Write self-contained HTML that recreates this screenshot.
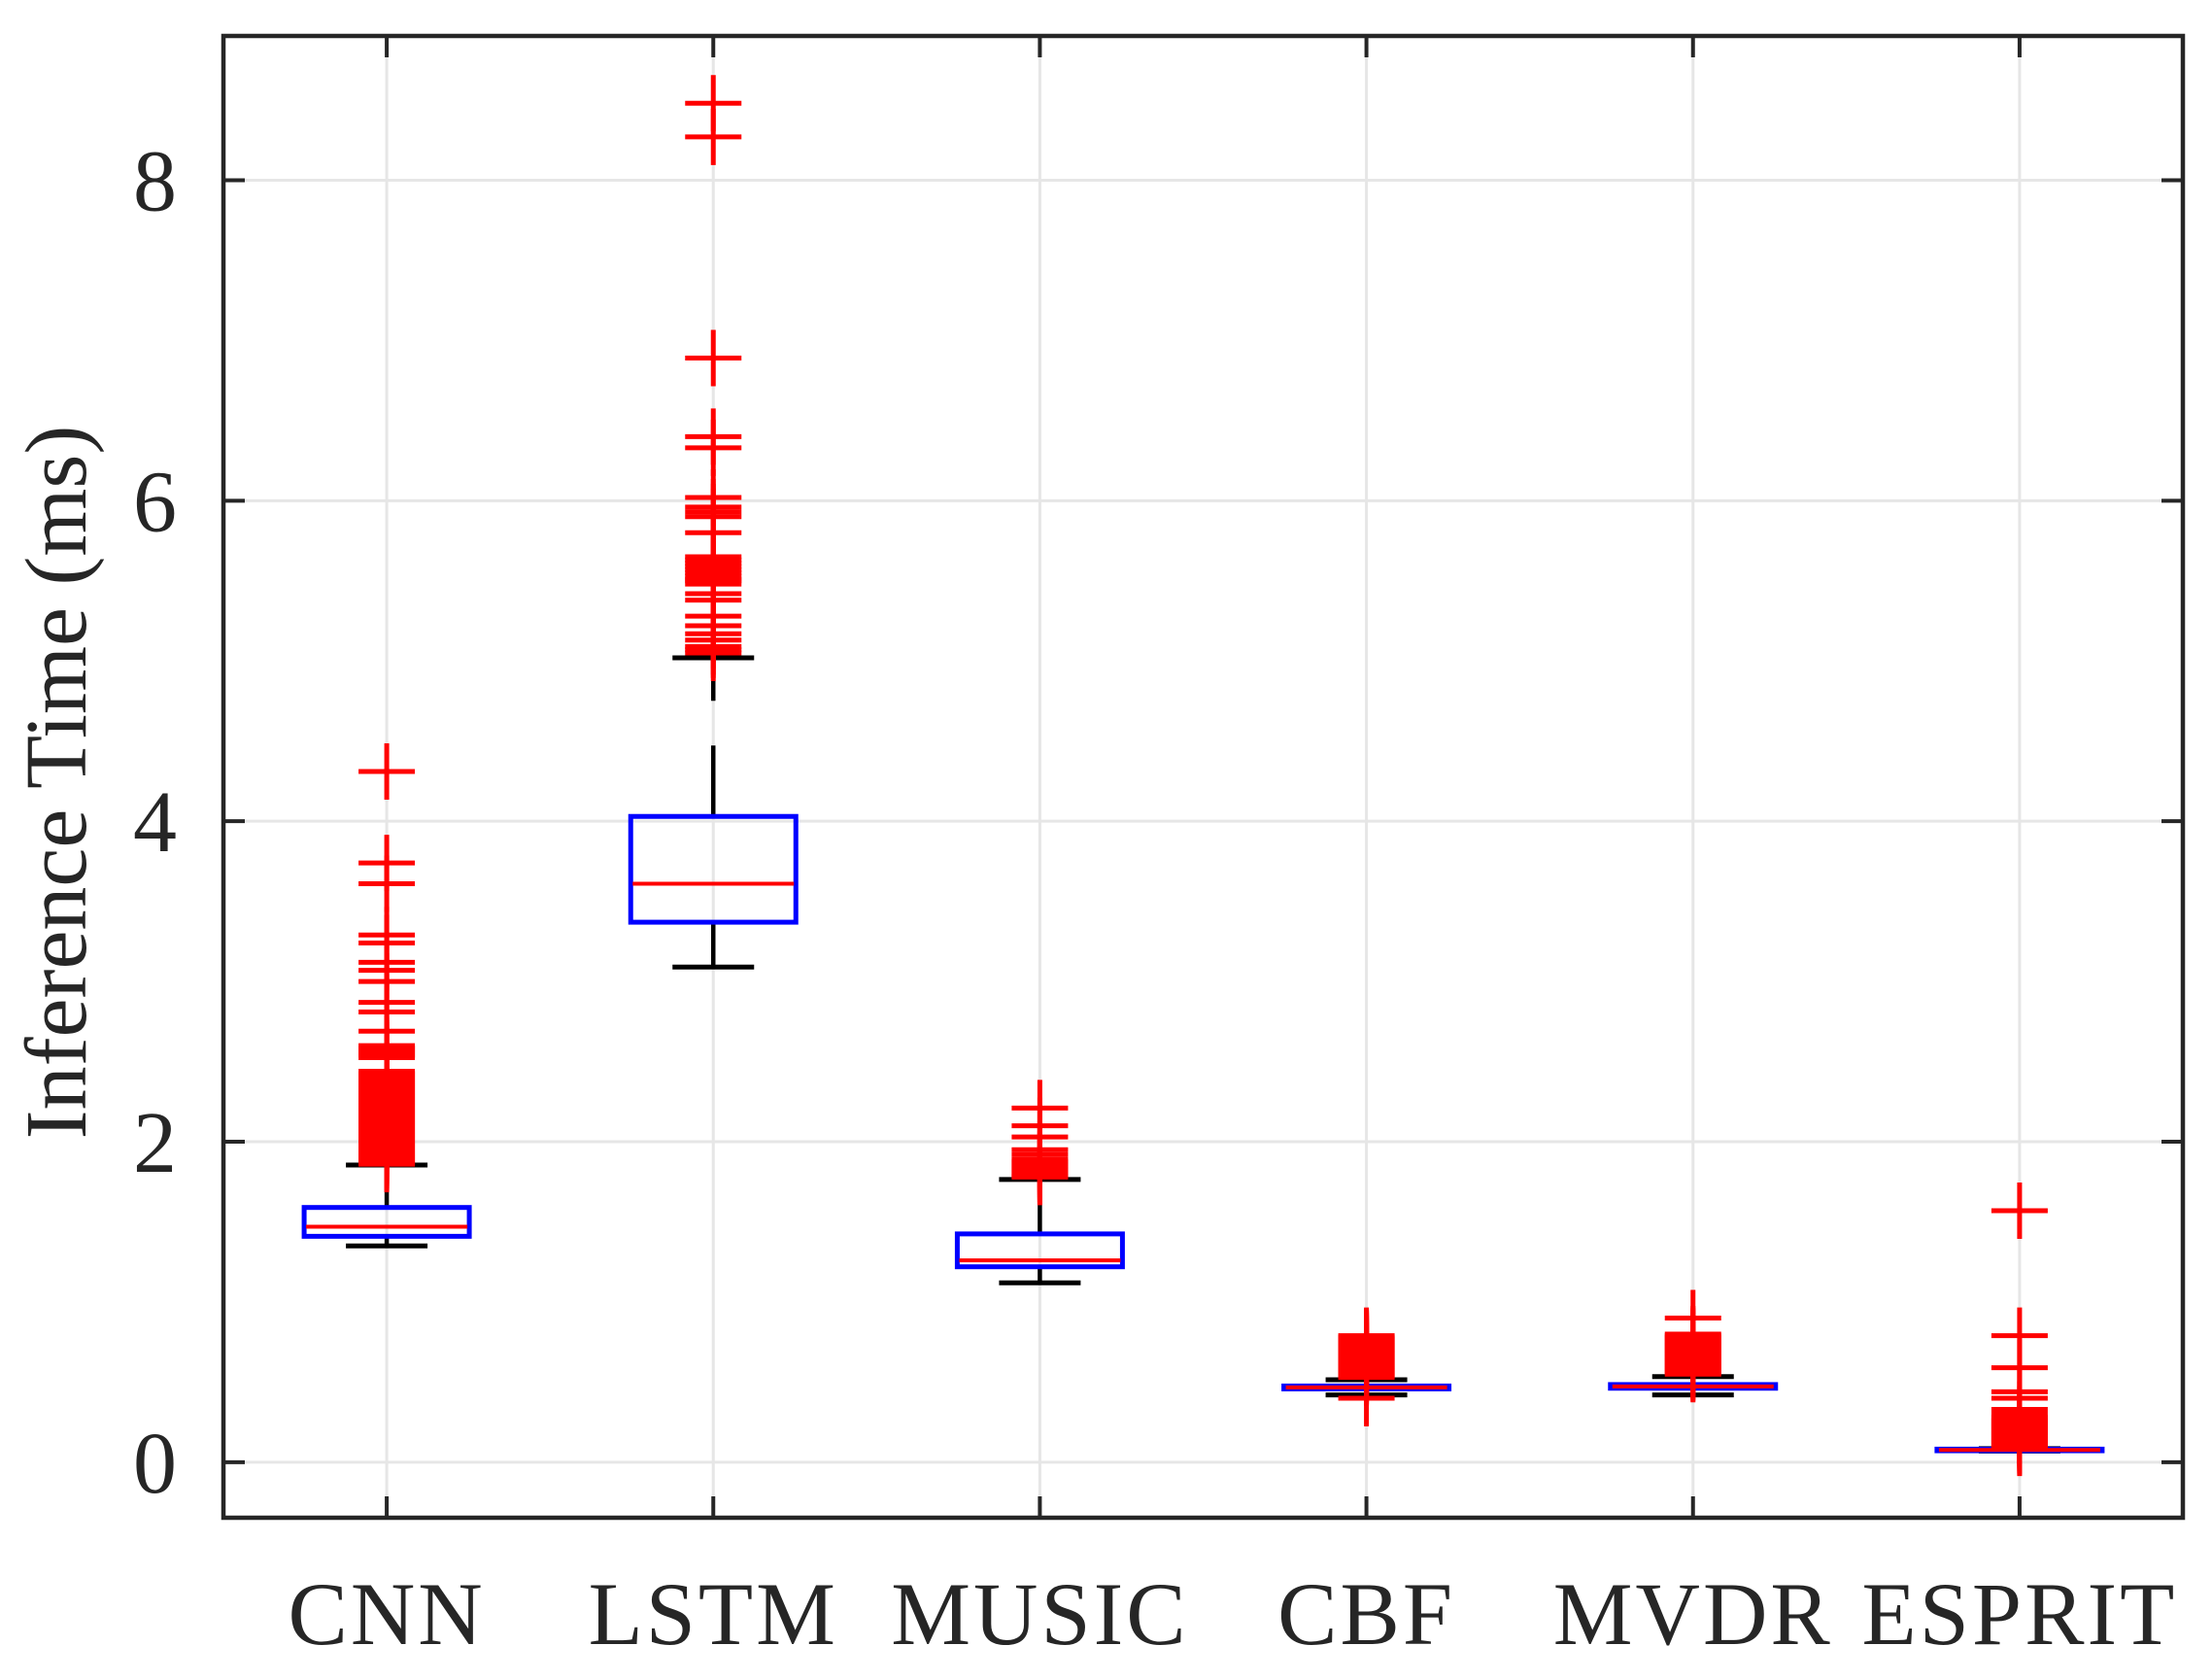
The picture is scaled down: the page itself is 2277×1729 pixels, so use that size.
<!DOCTYPE html>
<html><head><meta charset="utf-8"><style>
html,body{margin:0;padding:0;background:#fff;}
svg{display:block;}
text{font-family:"Liberation Serif",serif;fill:#262626;}
</style></head>
<body>
<svg id="chart" width="2277" height="1729" viewBox="0 0 2277 1729" xmlns="http://www.w3.org/2000/svg">
<g id="grid"></g>
<g id="boxes"></g>
<g id="axes"></g>
<text transform="translate(88,805) rotate(-90)" text-anchor="middle" font-size="90">Inference Time (ms)</text>
</svg>
<script>
const categories = ["CNN","LSTM","MUSIC","CBF","MVDR","ESPRIT"];
const q1 = [1.41, 3.37, 1.22, 0.458, 0.462, 0.072];
const q3 = [1.59, 4.03, 1.425, 0.476, 0.485, 0.082];
const medians = [1.47, 3.61, 1.26, 0.467, 0.473, 0.077];
const whiskLo = [1.35, 3.09, 1.12, 0.42, 0.42, 0.07];
const whiskHi = [1.855, 5.02, 1.765, 0.515, 0.535, 0.085];
const outCNN = [4.31,3.74,3.61,3.29,3.24,3.12,3.07,3.0,2.87,2.81,2.69,2.6,2.585,2.57,2.555,2.54,2.525,2.44,2.425,2.41,2.395,2.38,2.365,2.35,2.335,2.32,2.305,2.29,2.275,2.26,2.245,2.23,2.215,2.2,2.185,2.17,2.155,2.14,2.125,2.11,2.095,2.08,2.065,2.05,2.035,2.02,2.005,1.99,1.975,1.96,1.945,1.93,1.915,1.9,1.885,1.87,1.86];
const outLSTM = [8.48,8.27,6.89,6.40,6.33,6.02,5.96,5.93,5.9,5.8,5.65,5.63,5.61,5.59,5.57,5.55,5.53,5.51,5.5,5.48,5.42,5.38,5.28,5.22,5.17,5.13,5.09,5.07,5.05];
const outMUSIC = [2.21,2.10,2.03,1.95,1.92,1.89,1.875,1.86,1.845,1.83,1.815,1.8,1.785,1.78];
const outCBF = [0.79,0.78,0.77,0.76,0.75,0.74,0.73,0.72,0.71,0.7,0.69,0.68,0.67,0.66,0.65,0.64,0.63,0.62,0.61,0.6,0.59,0.58,0.57,0.56,0.55,0.54,0.53,0.40];
const outMVDR = [0.90,0.80,0.79,0.78,0.77,0.76,0.75,0.74,0.73,0.72,0.71,0.7,0.69,0.68,0.67,0.66,0.65,0.64,0.63,0.62,0.61,0.6,0.59,0.58,0.57,0.56,0.55];
const outESPRIT = [1.57,0.79,0.59,0.44,0.40,0.33,0.30,0.28,0.27,0.26,0.25,0.24,0.23,0.22,0.21,0.2,0.19,0.18,0.17,0.16,0.15,0.14,0.13,0.12,0.11,0.10,0.09];
const outliers = [outCNN,outLSTM,outMUSIC,outCBF,outMVDR,outESPRIT];
const yTicks = [0,2,4,6,8];
const yTickLabels = ["0","2","4","6","8"];

const L=230,R=2247,T=37,B=1562,yMin=-0.346,yMax=8.9;
const NS="http://www.w3.org/2000/svg";
function X(i){return L+(i+0.5)*(R-L)/categories.length;}
function Y(v){return B-(v-yMin)/(yMax-yMin)*(B-T);}
function mk(parent,tag,attrs){const e=document.createElementNS(NS,tag);for(const k in attrs)e.setAttribute(k,attrs[k]);parent.appendChild(e);return e;}
const grid=document.getElementById('grid'),boxes=document.getElementById('boxes'),axes=document.getElementById('axes');

yTicks.forEach((v,i)=>{
  const g=mk(grid,'line',{x1:L,x2:R,y1:Y(v),y2:Y(v),stroke:'#e6e6e6','stroke-width':3});
  
  
  const t1=mk(axes,'line',{x1:L,x2:L+22,y1:Y(v),y2:Y(v),stroke:'#262626','stroke-width':4});
  
  
  const t2=mk(axes,'line',{x1:R-22,x2:R,y1:Y(v),y2:Y(v),stroke:'#262626','stroke-width':4});
  
  
  const tx=mk(axes,'text',{x:182,y:Y(v)+31,'text-anchor':'end','font-size':90});
  tx.textContent=yTickLabels[i];
  
  
});
categories.forEach((c,i)=>{
  const x=X(i);
  const g=mk(grid,'line',{x1:x,x2:x,y1:T,y2:B,stroke:'#e6e6e6','stroke-width':3});
  
  
  const t1=mk(axes,'line',{x1:x,x2:x,y1:B-22,y2:B,stroke:'#262626','stroke-width':4});
  
  
  const t2=mk(axes,'line',{x1:x,x2:x,y1:T,y2:T+22,stroke:'#262626','stroke-width':4});
  
  
  const tx=mk(axes,'text',{x:x,y:1692,'text-anchor':'middle','font-size':92,'letter-spacing':3});
  tx.textContent=c;
  
  

  const bw=85,cw=42;
  const wu=mk(boxes,'line',{x1:x,x2:x,y1:Y(q3[i]),y2:Y(whiskHi[i]),stroke:'#000','stroke-width':4.5,'stroke-dasharray':'73 46'});
  
  
  const wl=mk(boxes,'line',{x1:x,x2:x,y1:Y(q1[i]),y2:Y(whiskLo[i]),stroke:'#000','stroke-width':4.5,'stroke-dasharray':'73 46'});
  
  
  const cu=mk(boxes,'line',{x1:x-cw,x2:x+cw,y1:Y(whiskHi[i]),y2:Y(whiskHi[i]),stroke:'#000','stroke-width':5});
  
  
  const cl=mk(boxes,'line',{x1:x-cw,x2:x+cw,y1:Y(whiskLo[i]),y2:Y(whiskLo[i]),stroke:'#000','stroke-width':5});
  
  
  const bx=mk(boxes,'rect',{x:x-bw,y:Y(q3[i]),width:2*bw,height:Math.max(0.5,Y(q1[i])-Y(q3[i])),fill:'none',stroke:'#0000ff','stroke-width':5});
  
  
  const md=mk(boxes,'line',{x1:x-bw+2,x2:x+bw-2,y1:Y(medians[i]),y2:Y(medians[i]),stroke:'#ff0000','stroke-width':4});
  
  
  outliers[i].forEach(v=>{
    const y=Y(v);
    const o=mk(boxes,'path',{d:`M${x-29},${y}H${x+29}M${x},${y-29}V${y+29}`,stroke:'#ff0000','stroke-width':5,fill:'none'});
    
    
  });
});
const fr=mk(axes,'rect',{x:L,y:T,width:R-L,height:B-T,fill:'none',stroke:'#262626','stroke-width':4.5});


</script>
</body></html>
